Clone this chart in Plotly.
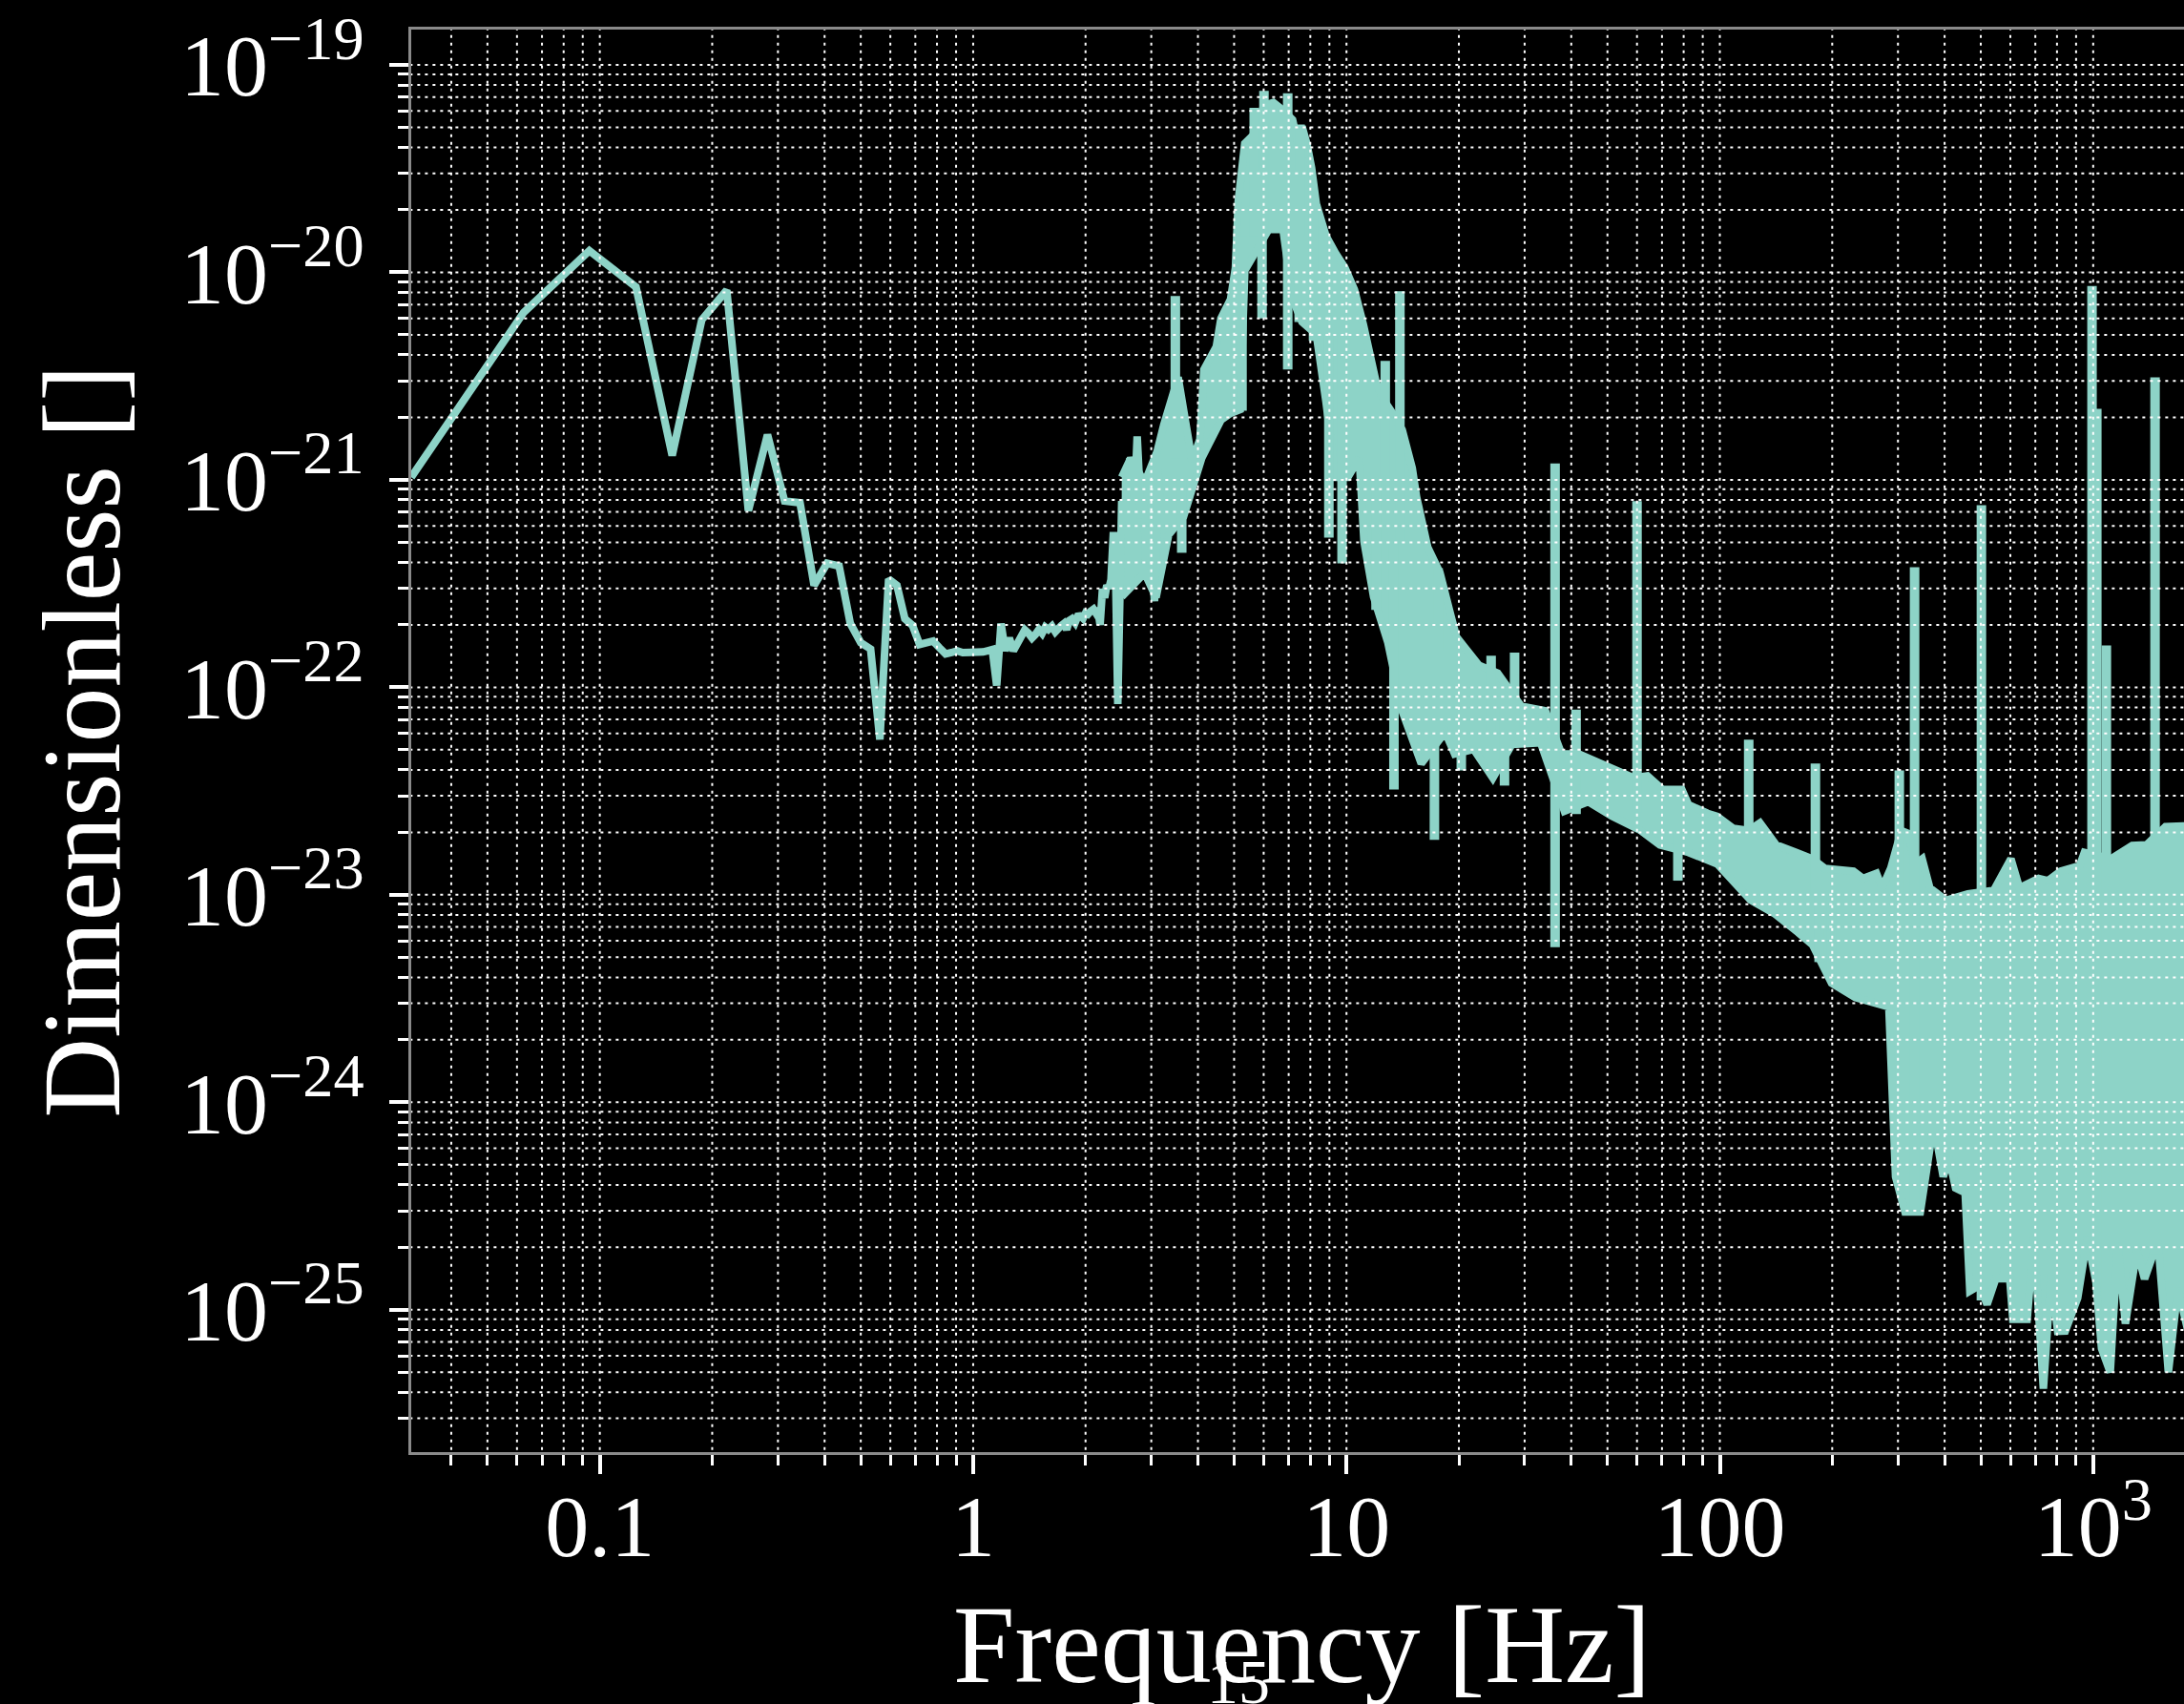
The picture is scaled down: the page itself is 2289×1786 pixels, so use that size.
import math
import plotly.graph_objects as go

# ---------------- data ----------------
# smooth low-frequency part of the amplitude spectrum
low_freq = [0.03125, 0.0625, 0.09375, 0.125, 0.15625, 0.1875, 0.21875, 0.25, 0.28125, 0.3125,
            0.34375, 0.375, 0.40625, 0.4375, 0.46875, 0.5, 0.53125, 0.5625, 0.59375, 0.625,
            0.65625, 0.6875, 0.71875, 0.75, 0.78125, 0.8125, 0.84375, 0.875, 0.90625, 0.9375,
            0.96875, 1.0, 1.03125, 1.0625, 1.09375, 1.125, 1.15625, 1.1875, 1.21875, 1.25,
            1.28125, 1.3125, 1.34375, 1.375, 1.40625, 1.4375, 1.46875, 1.5,
            1.53, 1.56, 1.59, 1.625, 1.66, 1.69, 1.72, 1.75, 1.78, 1.81,
            1.84, 1.875, 1.906, 1.94, 1.97, 2.0, 2.03, 2.06, 2.1, 2.125,
            2.156, 2.1875, 2.22, 2.25, 2.28, 2.31, 2.34, 2.375, 2.41, 2.44,
            2.47, 2.5, 2.53, 2.56, 2.6, 2.63, 2.66, 2.69, 2.72, 2.75,
            2.78, 2.81, 2.84, 2.875, 2.9, 2.94, 2.97, 3.0, 3.03, 3.06,
            3.1, 3.125, 3.16]
low_asd = [1.03e-21, 6.4e-21, 1.27e-20, 8.5e-21, 1.31e-21, 5.9e-21, 8.2e-21, 7.1e-22, 1.65e-21, 7.9e-22,
           7.75e-22, 3.1e-22, 3.96e-22, 3.84e-22, 2.03e-22, 1.64e-22, 1.53e-22, 5.6e-23, 3.32e-22, 3.1e-22,
           2.14e-22, 1.99e-22, 1.61e-22, 1.64e-22, 1.67e-22, 1.55e-22, 1.45e-22, 1.47e-22, 1.5e-22, 1.47e-22,
           1.47e-22, 1.46e-22, 1.47e-22, 1.48e-22, 1.5e-22, 1.52e-22, 1.02e-22, 2.03e-22, 1.5e-22, 1.73e-22,
           1.5e-22, 1.62e-22, 1.72e-22, 1.89e-22, 1.82e-22, 1.73e-22, 1.8e-22, 1.9e-22,
           1.82e-22, 1.95e-22, 1.9e-22, 1.97e-22, 1.85e-22, 1.95e-22, 1.98e-22, 2.03e-22, 1.9e-22, 2.1e-22,
           2.14e-22, 2.05e-22, 2.2e-22, 2.21e-22, 2.15e-22, 2.28e-22, 2.25e-22, 2.32e-22, 2.38e-22, 2.3e-22,
           2.4e-22, 2.0e-22, 2.98e-22, 2.7e-22, 3.1e-22, 3.0e-22, 3.3e-22, 5.6e-22, 3.2e-22, 8.3e-23,
           4.0e-22, 7.9e-22, 6.5e-22, 8.0e-22, 1.1e-21, 1.27e-21, 9e-22, 1.1e-21, 1.0e-21, 1.62e-21,
           1.1e-21, 6.5e-22, 8e-22, 7e-22, 3.96e-22, 5e-22, 6e-22, 4.5e-22, 3.5e-22, 2.6e-22,
           5e-22, 1.14e-21, 8e-22]

# dense noisy band: upper envelope
band_hi_freq = [2.5, 2.64, 2.88, 3.11, 3.24, 3.54, 3.86, 4.05, 4.15, 4.48,
                4.61, 4.89, 5.04, 5.13, 5.34, 5.66, 6.01, 6.37, 6.76, 7.17,
                7.38, 7.6, 7.83, 8.06, 8.3, 8.81, 9.34, 9.91, 10.5, 11.1,
                12.0, 12.5, 13.3, 14.1, 15.0, 15.4, 16.5, 17.8, 18.9, 19.7,
                20.9, 22.6, 25.4, 29.4, 34.1, 37.7, 41.9, 50.6, 54.6, 58.9,
                64.0, 70.3, 79.1, 82.4, 92.7, 98.3, 108.6, 119.4, 128.1, 141.6,
                160.2, 177.1, 191.2, 228, 241.8, 262.7, 272.1, 286.9, 306.1, 319,
                334.2, 348.3, 365.1, 403.6, 461.9, 541.6, 602.1, 634.8, 714.2, 757.5,
                817.6, 919.8, 947.4, 1117, 1272, 1389, 1562, 1800]
band_hi_asd = [1.03e-21, 1.27e-21, 9.7e-22, 1.37e-21, 1.84e-21, 3.12e-21, 1.23e-21, 1.57e-21, 3.4e-21, 4.38e-21,
               6.0e-21, 7.4e-21, 1.05e-20, 2.21e-20, 4.18e-20, 4.64e-20, 6.37e-20, 6.58e-20, 6.05e-20, 5.44e-20,
               4.31e-20, 5.05e-20, 4.18e-20, 3.2e-20, 2.14e-20, 1.5e-20, 1.24e-20, 1.05e-20, 8.26e-21, 5.59e-21,
               2.96e-21, 2.47e-21, 2.09e-21, 1.74e-21, 1.14e-21, 8.3e-22, 4.74e-22, 3.56e-22, 2.33e-22, 1.75e-22,
               1.53e-22, 1.28e-22, 1.17e-22, 8.1e-23, 7.7e-23, 4.77e-23, 4.77e-23, 4.07e-23, 3.86e-23, 3.66e-23,
               3.74e-23, 3.22e-23, 3.22e-23, 2.72e-23, 2.47e-23, 2.39e-23, 2.09e-23, 2.04e-23, 2.22e-23, 1.74e-23,
               1.6e-23, 1.49e-23, 1.34e-23, 1.3e-23, 1.2e-23, 1.27e-23, 1.08e-23, 1.34e-23, 2.04e-23, 1.98e-23,
               1.41e-23, 1.49e-23, 1.08e-23, 9.4e-24, 1.01e-23, 1.05e-23, 1.49e-23, 1.08e-23, 1.2e-23, 1.17e-23,
               1.3e-23, 1.38e-23, 1.6e-23, 1.49e-23, 1.73e-23, 1.74e-23, 2.13e-23, 2.15e-23]

# dense noisy band: lower envelope
band_lo_freq = [2.5, 2.88, 3.09, 3.34, 3.66, 4.1, 4.61, 4.89, 5.19, 5.34,
                6.19, 6.76, 7.17, 7.6, 8.3, 8.81, 9.34, 10.08, 10.82, 11.14,
                11.82, 12.91, 14.1, 15.86, 18.38, 19.49, 21.92, 24.66, 27.74, 33.11,
                38.34, 44.42, 51.44, 61.39, 69.08, 82.4, 98.3, 107.4, 120.8, 139.9,
                162.1, 177.1, 199.2, 230.7, 283.6, 295.6, 313.3, 344.4, 373.9, 396.6,
                410.8, 428.1, 454.1, 467.4, 496, 519.8, 548.1, 574.5, 584.7, 609.3,
                665.6, 693.6, 735.6, 770.9, 803.5, 842.1, 908.9, 964.1, 1017, 1053,
                1111, 1164, 1220, 1309, 1373, 1491, 1590, 1687, 1800]
band_lo_asd = [2.73e-22, 3.56e-22, 2.71e-22, 5.44e-22, 6.65e-22, 1.28e-21, 1.94e-21, 2.09e-21, 2.18e-21, 1.02e-20,
               1.61e-20, 1.61e-20, 7.43e-21, 5.77e-21, 5.02e-21, 2.39e-21, 1.03e-21, 1.03e-21, 1.27e-21, 5.05e-22,
               2.73e-22, 1.64e-22, 7.68e-23, 4.29e-23, 6.08e-23, 4.77e-23, 5.02e-23, 3.66e-23, 5.3e-23, 5.41e-23,
               2.53e-23, 2.81e-23, 2.39e-23, 2.04e-23, 1.74e-23, 1.6e-23, 1.41e-23, 1.17e-23, 9.43e-24, 8.13e-24,
               6.58e-24, 5.74e-24, 3.75e-24, 3.2e-24, 2.88e-24, 4.38e-25, 2.96e-25, 2.96e-25, 7.92e-25, 4.38e-25,
               5.41e-25, 3.86e-25, 3.66e-25, 1.23e-25, 1.31e-25, 1.06e-25, 1.41e-25, 1.41e-25, 2.39e-25, 9.0e-26,
               9.0e-26, 2.22e-25, 4.17e-26, 1.46e-25, 7.88e-26, 7.9e-26, 1.14e-25, 2.22e-25, 1.37e-25, 6.51e-26,
               5.0e-26, 2.09e-25, 8.58e-26, 1.94e-25, 1.41e-25, 2.15e-25, 5.0e-26, 1.27e-25, 7.7e-26]

# narrow spectral lines (upward spikes)
spike_freq = [3.48, 5.66, 6.01, 6.96, 7.51, 12.7, 13.9, 17.6, 24.4, 28.2, 36.2,
              41.2, 60.0, 119.5, 180.3, 302.5, 332.4, 501.9, 992.9, 1022.6, 1084.7, 1464.6]
spike_top = [7.7e-21, 6.2e-20, 7.5e-20, 7.3e-20, 5.16e-20, 3.74e-21, 8.1e-21, 3.75e-22, 1.42e-22, 1.47e-22, 1.2e-21,
             7.8e-23, 7.9e-22, 5.6e-23, 4.29e-23, 3.98e-23, 3.79e-22, 7.55e-22, 8.6e-21, 2.2e-21, 1.59e-22, 3.12e-21]
spike_base = [1.27e-21, 1.5e-20, 1.5e-20, 1.5e-20, 1.5e-20, 8e-22, 5e-22, 1.5e-22, 6e-23, 6e-23, 5.6e-24,
              2.45e-23, 2.5e-23, 1.5e-23, 1e-23, 5e-24, 2.92e-25, 1.11e-25, 2.34e-25, 1.5e-23, 6.8e-26, 1.85e-25]

# narrow downward notches
dip_freq = [3.62, 5.25, 5.94, 6.96, 7.47, 8.16, 8.97, 9.73, 12.0, 13.4, 17.2, 20.3, 26.5, 77.2, 184.5, 199.2]
dip_bottom = [4.45e-22, 2.15e-21, 6.0e-21, 3.4e-21, 5.77e-21, 4.67e-21, 5.27e-22, 3.96e-22, 2.36e-22, 3.22e-23,
              1.84e-23, 3.98e-23, 3.36e-23, 1.17e-23, 4.74e-24, 3.96e-24]
dip_base = [1e-21, 1.5e-20, 3e-20, 3e-20, 3e-20, 2e-20, 5e-21, 5e-21, 1e-21, 5e-22, 2e-22, 1e-22, 8e-23, 2e-23,
            1e-23, 1e-23]

# axes
x_range = [0.03125, 1751]
y_range = [10 ** -25.686, 10 ** -18.83]
x_major = [0.1, 1, 10, 100, 1000]
x_major_text = ["0.1", "1", "10", "100", "10<sup>3</sup>"]
y_major = [1e-25, 1e-24, 1e-23, 1e-22, 1e-21, 1e-20, 1e-19]
y_major_text = ["10<sup>\u221225</sup>", "10<sup>\u221224</sup>", "10<sup>\u221223</sup>",
                "10<sup>\u221222</sup>", "10<sup>\u221221</sup>", "10<sup>\u221220</sup>",
                "10<sup>\u221219</sup>"]
x_title = "Frequency [Hz]"
y_title = "Dimensionless []"
page_number = "15"

# ---------------- styling ----------------
LINE = "#8dd3c7"
LW = 8
SPIKE_W = 10
FONT = "Liberation Serif"

x_minor = [m * 10.0 ** d for d in range(-2, 4) for m in range(2, 10)
           if x_range[0] <= m * 10.0 ** d <= x_range[1]]
y_minor = [m * 10.0 ** d for d in range(-27, -18) for m in range(2, 10)
           if y_range[0] <= m * 10.0 ** d <= y_range[1]]

fig = go.Figure()

# noisy band as closed polygon
band_x = band_hi_freq + band_lo_freq[::-1]
band_y = band_hi_asd + band_lo_asd[::-1]
fig.add_trace(go.Scatter(x=band_x, y=band_y, mode="lines", fill="toself", fillcolor=LINE,
                         line=dict(color=LINE, width=LW), hoverinfo="skip"))

# spikes and notches
sx, sy = [], []
for f, top, base in zip(spike_freq, spike_top, spike_base):
    sx += [f, f, None]
    sy += [base, top, None]
for f, bot, base in zip(dip_freq, dip_bottom, dip_base):
    sx += [f, f, None]
    sy += [base, bot, None]
fig.add_trace(go.Scatter(x=sx, y=sy, mode="lines", line=dict(color=LINE, width=SPIKE_W), hoverinfo="skip"))

# low frequency curve
fig.add_trace(go.Scatter(x=low_freq, y=low_asd, mode="lines", line=dict(color=LINE, width=LW)))

# dotted grid drawn above the data
gx, gy = [], []
for v in x_major + x_minor:
    gx += [v, v, None]
    gy += [1e-27, 1e-17, None]
for v in y_major + y_minor:
    gx += [0.01, 1e4, None]
    gy += [v, v, None]
fig.add_trace(go.Scatter(x=gx, y=gy, mode="lines", hoverinfo="skip",
                         line=dict(color="white", width=2, dash="3px,5px")))

axis_common = dict(
    type="log", showgrid=False, zeroline=False,
    showline=True, linecolor="#8a8a8a", linewidth=3,
    ticks="outside", ticklen=20, tickwidth=4, tickcolor="white",
    tickmode="array", tickfont=dict(family=FONT, size=92, color="white"),
)

fig.update_layout(
    width=2289, height=1786,
    paper_bgcolor="black", plot_bgcolor="black",
    margin=dict(l=431, r=0, t=31, b=264, autoexpand=False),
    showlegend=False,
    font=dict(family=FONT, color="white"),
    xaxis=dict(axis_common, range=[math.log10(x_range[0]), math.log10(x_range[1])],
               tickvals=x_major, ticktext=x_major_text, mirror=True,
               ticklabelstandoff=-24,
               minor=dict(tickvals=x_minor, ticks="outside", ticklen=11, tickwidth=3,
                          tickcolor="white", showgrid=False)),
    yaxis=dict(axis_common, range=[math.log10(y_range[0]), math.log10(y_range[1])],
               tickvals=y_major, ticktext=y_major_text,
               ticklabelstandoff=8,
               minor=dict(tickvals=y_minor, ticks="outside", ticklen=11, tickwidth=3,
                          tickcolor="white", showgrid=False)),
    annotations=[
        dict(text=x_title, xref="paper", yref="paper", x=0.5022, y=-0.1355,
             xanchor="center", yanchor="middle", showarrow=False,
             font=dict(family=FONT, size=116, color="white")),
        dict(text=y_title, xref="paper", yref="paper", x=-0.1857, y=0.5, textangle=-90,
             xanchor="center", yanchor="middle", showarrow=False,
             font=dict(family=FONT, size=116, color="white")),
        dict(text=page_number, xref="paper", yref="paper", x=0.4666, y=-0.1616,
             xanchor="center", yanchor="middle", showarrow=False,
             font=dict(family=FONT, size=66, color="white")),
    ],
)

fig.write_html("out.html")
